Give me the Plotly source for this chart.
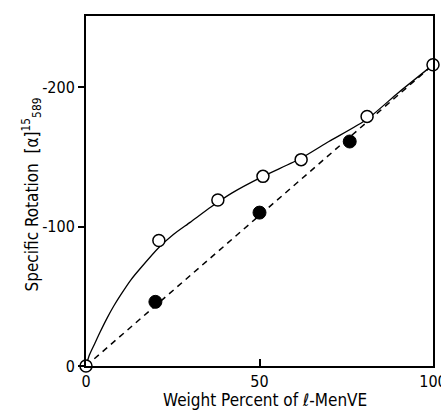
import plotly.graph_objects as go

# Data
open_x = [0, 21, 38, 51, 62, 81, 100]
open_y = [0, -90, -119, -136, -148, -179, -216]

filled_x = [20, 50, 76]
filled_y = [-46, -110, -161]

curve_x = [0, 1, 2.5, 4, 6, 8, 10, 13, 16, 21, 25, 30, 36, 42, 51, 62, 70, 81, 90, 100]
curve_y = [0, -8, -16, -24, -34, -43, -51, -62, -71, -85, -94, -103, -114, -124, -136, -149, -161, -177, -196, -216]

dash_x = [0, 100]
dash_y = [0, -216]

x_ticks = [0, 50, 100]
x_ticklabels = ["0", "50", "100"]
y_ticks = [0, -100, -200]
y_ticklabels = ["0", "-100", "-200"]

FONT = "DejaVu Sans Condensed, DejaVu Sans, sans-serif"

fig = go.Figure()
fig.add_trace(go.Scatter(x=curve_x, y=curve_y, mode="lines",
                         line=dict(color="black", width=1.3, shape="spline", smoothing=0.6),
                         showlegend=False, hoverinfo="skip"))
fig.add_trace(go.Scatter(x=dash_x, y=dash_y, mode="lines",
                         line=dict(color="black", width=1.5, dash="6px,5px"),
                         showlegend=False, hoverinfo="skip"))
fig.add_trace(go.Scatter(x=filled_x, y=filled_y, mode="markers",
                         marker=dict(symbol="circle", size=13, color="black",
                                     line=dict(color="black", width=1)),
                         showlegend=False, cliponaxis=False))
fig.add_trace(go.Scatter(x=open_x, y=open_y, mode="markers",
                         marker=dict(symbol="circle", size=12, color="white",
                                     line=dict(color="black", width=1.5)),
                         showlegend=False, cliponaxis=False))

fig.update_layout(
    width=441, height=410,
    margin=dict(l=86, r=8, t=16, b=44, autoexpand=False),
    paper_bgcolor="white", plot_bgcolor="white",
    font=dict(family=FONT, size=17, color="black"),
    showlegend=False,
)
fig.update_xaxes(range=[0, 100], tickvals=x_ticks, ticktext=x_ticklabels,
                 ticks="inside", ticklen=7, tickwidth=2, tickcolor="black",
                 showline=True, linewidth=2, linecolor="black", mirror=True,
                 showgrid=False, zeroline=False, automargin=False,
                 ticklabeloverflow="allow",
                 tickfont=dict(size=16))
fig.update_yaxes(range=[0, -251], tickvals=y_ticks, ticktext=y_ticklabels,
                 ticks="outside", ticklen=6, tickwidth=2, tickcolor="black",
                 showline=True, linewidth=2, linecolor="black", mirror=True,
                 showgrid=False, zeroline=False, automargin=False,
                 ticklabeloverflow="allow",
                 tickfont=dict(size=16))

fig.add_annotation(text="Weight Percent of <i>ℓ</i>-MenVE", xref="paper", yref="paper",
                   x=0.515, y=0, yshift=-22, xanchor="center", yanchor="top",
                   showarrow=False, font=dict(size=17))
fig.add_annotation(text="Specific Rotation  [α]<sup>15</sup><sub>589</sub>", xref="paper", yref="paper",
                   x=0, xshift=-54, y=0.49, xanchor="center", yanchor="middle", textangle=-90,
                   showarrow=False, font=dict(size=17))

fig.write_html("out.html", config={"displayModeBar": False},
               post_script="document.body.style.margin='0';document.body.style.overflow='hidden';")
